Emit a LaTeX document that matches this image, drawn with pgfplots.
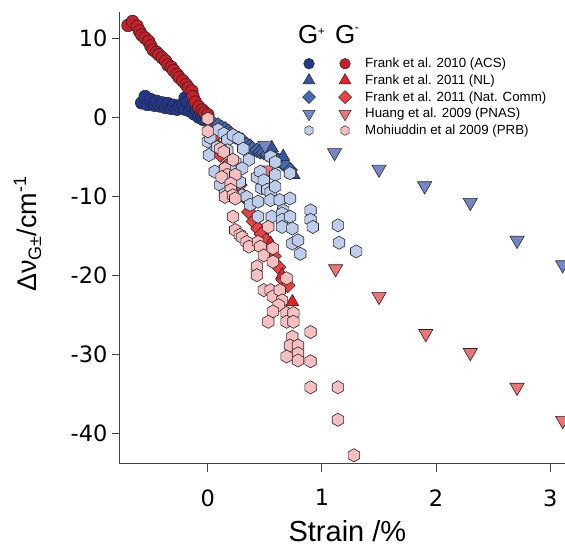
\documentclass[border=0pt]{standalone}
\usepackage{fontspec}
\setmainfont{Liberation Sans}
\newfontfamily\dvfont{DejaVu Sans}
\usepackage{pgfplots}
\pgfplotsset{compat=1.18}
\pgfdeclareplotmark{hexagon*}{%
  \pgfpathmoveto{\pgfqpointpolar{90}{\pgfplotmarksize}}%
  \pgfpathlineto{\pgfqpointpolar{150}{\pgfplotmarksize}}%
  \pgfpathlineto{\pgfqpointpolar{210}{\pgfplotmarksize}}%
  \pgfpathlineto{\pgfqpointpolar{270}{\pgfplotmarksize}}%
  \pgfpathlineto{\pgfqpointpolar{330}{\pgfplotmarksize}}%
  \pgfpathlineto{\pgfqpointpolar{30}{\pgfplotmarksize}}%
  \pgfpathclose
  \pgfusepathqfillstroke}
\definecolor{acsP}{RGB}{35,55,145}
\definecolor{acsM}{RGB}{200,30,40}
\definecolor{nlP}{RGB}{55,85,165}
\definecolor{nlM}{RGB}{235,30,35}
\definecolor{ncP}{RGB}{70,105,180}
\definecolor{ncM}{RGB}{235,65,65}
\definecolor{huP}{RGB}{115,135,200}
\definecolor{huM}{RGB}{240,115,115}
\definecolor{moP}{RGB}{190,205,235}
\definecolor{moM}{RGB}{248,190,192}
\definecolor{edge}{RGB}{40,40,40}
\pgfplotsset{
  legP/.style={legend image code/.code={\draw[##1] plot coordinates {(0pt,0pt)}; \path (-6pt,-8.15pt) (6pt,8.15pt);}},
  legM/.style={legend image code/.code={\draw[##1] plot coordinates {(0pt,0pt)}; \path (-6pt,-8.15pt) (20pt,8.15pt);}},
}
\begin{document}
\begin{tikzpicture}
\begin{axis}[
  at={(0,0)}, anchor=south west,
  scale only axis, width=445pt, height=452pt,
  xmin=-0.77, xmax=3.13, ymin=-43.9, ymax=13.3,
  axis x line*=bottom, axis y line*=left,
  axis line style={-, line width=1pt, black!75},
  xtick={0,1,2,3}, ytick={-40,-30,-20,-10,0,10},
  tick align=outside, major tick length=8pt,
  tick style={line width=1pt, black!75},
  ticklabel style={font=\dvfont\fontsize{22.5}{22.5}\selectfont},
  xticklabel style={yshift=-14pt},
  yticklabel style={xshift=-1pt},
  /pgf/number format/assume math mode=true,
  xlabel={Strain /\%},
  xlabel style={font=\fontsize{29}{29}\selectfont, at={(axis description cs:0.511,-0.171)}, anchor=base},
  ylabel={Δν\raisebox{-5pt}{\fontsize{18}{18}\selectfont G±}/cm\raisebox{10pt}{\fontsize{18}{18}\selectfont -1}},
  ylabel style={font=\fontsize{27}{27}\selectfont, at={(axis description cs:-0.208,0.508)}, anchor=center},
  legend columns=2,
  legend cell align=left,
  legend style={at={(axis description cs:0.4097,0.9045)}, anchor=north west, draw=none, fill=none,
    font=\fontsize{13.3}{14}\selectfont, inner sep=0pt, column sep=0pt, row sep=0pt, nodes={inner sep=0pt}},
]
% Frank 2010 ACS
\addplot[only marks, mark=*, mark size=6.3pt, mark options={fill=acsP, draw=edge, line width=0.6pt}, forget plot] coordinates {
(-0.58,1.8) (-0.55,2.6) (-0.53,1.6) (-0.50,2.2) (-0.47,1.5) (-0.45,2.0) (-0.42,1.4) (-0.40,1.8)
(-0.37,1.2) (-0.35,1.7) (-0.32,1.1) (-0.30,1.5) (-0.27,1.0) (-0.25,1.4) (-0.22,1.6) (-0.20,2.4)
(-0.20,1.0) (-0.18,1.9) (-0.16,0.8) (-0.14,1.3) (-0.12,0.4) (-0.10,0.9) (-0.08,0.0) (-0.06,0.5)
(-0.04,-0.3) (-0.02,0.2) (0.00,-0.2)};
\addplot[only marks, mark=*, mark size=6.3pt, mark options={fill=acsM, draw=edge, line width=0.6pt}, forget plot] coordinates {
(-0.70,11.6) (-0.66,12.1) (-0.62,11.5) (-0.60,10.9) (-0.58,10.4) (-0.55,10.0) (-0.52,9.6) (-0.50,9.0)
(-0.48,8.5) (-0.45,8.2) (-0.43,7.9) (-0.40,7.5) (-0.37,7.1) (-0.35,6.6) (-0.32,6.3) (-0.30,5.9)
(-0.27,5.4) (-0.25,5.0) (-0.22,4.6) (-0.19,4.1) (-0.17,3.7) (-0.14,3.3) (-0.13,2.6) (-0.11,1.9)
(-0.08,1.3) (-0.05,0.9) (-0.03,0.6) (0.00,0.3)};
% Frank 2011 Nat Comm
\addplot[only marks, mark=square*, mark size=5.2pt, mark options={rotate=45, fill=ncP, draw=edge, line width=0.6pt}, forget plot] coordinates {
(0.05,-0.8) (0.09,-1.0) (0.12,-1.3) (0.15,-1.5) (0.18,-1.8) (0.20,-2.1) (0.24,-2.5) (0.27,-2.7)
(0.30,-2.9) (0.34,-3.5) (0.37,-3.7) (0.39,-4.0) (0.43,-4.2) (0.46,-4.4) (0.49,-4.5) (0.52,-4.7)
(0.56,-5.0) (0.59,-5.2) (0.62,-5.5) (0.65,-5.8) (0.68,-6.1) (0.72,-6.7)};
\addplot[only marks, mark=square*, mark size=5.2pt, mark options={rotate=45, fill=ncM, draw=edge, line width=0.6pt}, forget plot] coordinates {
(0.05,-2.6) (0.09,-3.8) (0.11,-4.8) (0.16,-6.2) (0.21,-7.4) (0.25,-8.0) (0.28,-8.6) (0.32,-10.1)
(0.36,-12.0) (0.40,-13.2) (0.44,-14.1) (0.47,-14.8) (0.51,-15.6) (0.55,-16.6) (0.58,-17.6)
(0.62,-19.0) (0.66,-20.6) (0.70,-21.3)};
% Frank 2011 NL
\addplot[only marks, mark=triangle*, mark size=7.5pt, mark options={fill=nlP, draw=edge, line width=0.6pt}, forget plot] coordinates {
(0.56,-3.9) (0.66,-5.0) (0.75,-7.3)};
\addplot[only marks, mark=triangle*, mark size=7.5pt, mark options={fill=nlM, draw=edge, line width=0.6pt}, forget plot] coordinates {
(0.55,-16.0) (0.65,-20.0) (0.74,-23.4)};
% Huang 2009 PNAS
\addplot[only marks, mark=triangle*, mark size=8.2pt, mark options={rotate=180, fill=huP, draw=edge, line width=0.6pt}, forget plot] coordinates {
(0.50,-3.6) (1.11,-4.5) (1.50,-6.6) (1.90,-8.7) (2.30,-10.8) (2.71,-15.6) (3.11,-18.7)};
\addplot[only marks, mark=triangle*, mark size=8.2pt, mark options={rotate=180, fill=huM, draw=edge, line width=0.6pt}, forget plot] coordinates {
(0.52,-6.7) (1.12,-19.2) (1.50,-22.7) (1.91,-27.4) (2.30,-29.8) (2.71,-34.2) (3.11,-38.4)};
% Mohiuddin 2009 PRB
\addplot[only marks, mark=hexagon*, mark size=6.6pt, mark options={fill=moP, draw=edge, line width=0.6pt}, forget plot] coordinates {
(0.00,-3.1) (0.01,-4.8) (0.02,-2.6) (0.08,-3.8) (0.09,-1.6) (0.14,-2.1) (0.17,-2.9) (0.17,-4.2)
(0.22,-2.3) (0.27,-2.7) (0.31,-4.0) (0.24,-5.7) (0.36,-5.4) (0.06,-6.9) (0.20,-6.7) (0.30,-6.5)
(0.17,-7.6) (0.11,-8.6) (0.15,-9.7) (0.28,-8.2) (0.30,-9.9) (0.34,-10.1) (0.37,-11.1) (0.43,-7.6)
(0.46,-6.9) (0.47,-9.0) (0.49,-8.0) (0.52,-9.2) (0.55,-9.5) (0.55,-5.0) (0.59,-5.7) (0.59,-7.3)
(0.59,-8.8) (0.44,-10.7) (0.55,-10.5) (0.63,-10.5) (0.72,-7.1) (0.72,-10.3) (0.66,-11.8)
(0.44,-12.6) (0.56,-12.6) (0.65,-12.2) (0.65,-13.0) (0.72,-12.6) (0.65,-13.9) (0.74,-14.1)
(0.74,-16.0) (0.79,-15.6) (0.81,-17.3) (0.90,-11.8) (0.90,-13.0) (0.92,-13.9) (1.14,-13.7)
(1.15,-15.9) (1.30,-17.0)};
\addplot[only marks, mark=hexagon*, mark size=6.6pt, mark options={fill=moM, draw=edge, line width=0.6pt}, forget plot] coordinates {
(0.00,-0.2) (0.00,-1.8) (0.11,-4.0) (0.14,-4.4) (0.15,-6.5) (0.22,-5.4) (0.17,-7.3) (0.24,-7.3)
(0.12,-7.6) (0.20,-8.4) (0.20,-9.2) (0.15,-10.1) (0.22,-9.9) (0.24,-10.3) (0.22,-12.6) (0.24,-14.3)
(0.28,-14.9) (0.30,-15.2) (0.34,-15.8) (0.36,-16.4) (0.44,-15.8) (0.46,-16.4) (0.49,-17.5)
(0.53,-13.9) (0.57,-16.6) (0.57,-18.3) (0.43,-18.9) (0.43,-20.0) (0.69,-20.4) (0.49,-21.9)
(0.55,-21.9) (0.57,-22.7) (0.63,-21.9) (0.65,-23.2) (0.62,-23.8) (0.57,-24.6) (0.53,-25.9)
(0.69,-24.8) (0.75,-24.8) (0.69,-25.9) (0.75,-25.9) (0.74,-27.8) (0.72,-28.9) (0.79,-28.9)
(0.79,-29.9) (0.69,-30.3) (0.79,-30.8) (0.90,-30.9) (0.90,-27.2) (0.90,-34.2) (1.14,-34.2)
(1.14,-38.3) (1.28,-42.8)};
% legend
\addlegendimage{legP, only marks, mark=*, mark size=5.3pt, mark options={fill=acsP, draw=edge, line width=0.5pt}}
\addlegendentry{\hspace*{23pt}}
\addlegendimage{legM, only marks, mark=*, mark size=5.3pt, mark options={fill=acsM, draw=edge, line width=0.5pt}}
\addlegendentry{Frank et al. 2010 (ACS)}
\addlegendimage{legP, only marks, mark=triangle*, mark size=6.8pt, mark options={fill=nlP, draw=edge, line width=0.5pt}}
\addlegendentry{\hspace*{23pt}}
\addlegendimage{legM, only marks, mark=triangle*, mark size=6.8pt, mark options={fill=nlM, draw=edge, line width=0.5pt}}
\addlegendentry{Frank et al. 2011 (NL)}
\addlegendimage{legP, only marks, mark=square*, mark size=4.6pt, mark options={rotate=45, fill=ncP, draw=edge, line width=0.5pt}}
\addlegendentry{\hspace*{23pt}}
\addlegendimage{legM, only marks, mark=square*, mark size=4.6pt, mark options={rotate=45, fill=ncM, draw=edge, line width=0.5pt}}
\addlegendentry{Frank et al. 2011 (Nat. Comm)}
\addlegendimage{legP, only marks, mark=triangle*, mark size=7pt, mark options={rotate=180, fill=huP, draw=edge, line width=0.5pt}}
\addlegendentry{\hspace*{23pt}}
\addlegendimage{legM, only marks, mark=triangle*, mark size=7pt, mark options={rotate=180, fill=huM, draw=edge, line width=0.5pt}}
\addlegendentry{Huang et al. 2009 (PNAS)}
\addlegendimage{legP, only marks, mark=hexagon*, mark size=4.8pt, mark options={fill=moP, draw=edge, line width=0.5pt}}
\addlegendentry{\hspace*{23pt}}
\addlegendimage{legM, only marks, mark=hexagon*, mark size=4.8pt, mark options={fill=moM, draw=edge, line width=0.5pt}}
\addlegendentry{Mohiuddin et al 2009 (PRB)}
\node[anchor=base west, font=\fontsize{26}{26}\selectfont, inner sep=0pt] at (axis description cs:0.400,0.9308)
  {G\kern-0.5pt\raisebox{8pt}{\fontsize{12}{12}\selectfont +}};
\node[anchor=base west, font=\fontsize{26}{26}\selectfont, inner sep=0pt] at (axis description cs:0.4831,0.9308)
  {G\kern-0.5pt\raisebox{12pt}{\fontsize{12}{12}\selectfont -}};
\end{axis}
\pgfresetboundingbox
\path (-120pt,-84pt) rectangle (445pt,464pt);
\end{tikzpicture}
\end{document}
